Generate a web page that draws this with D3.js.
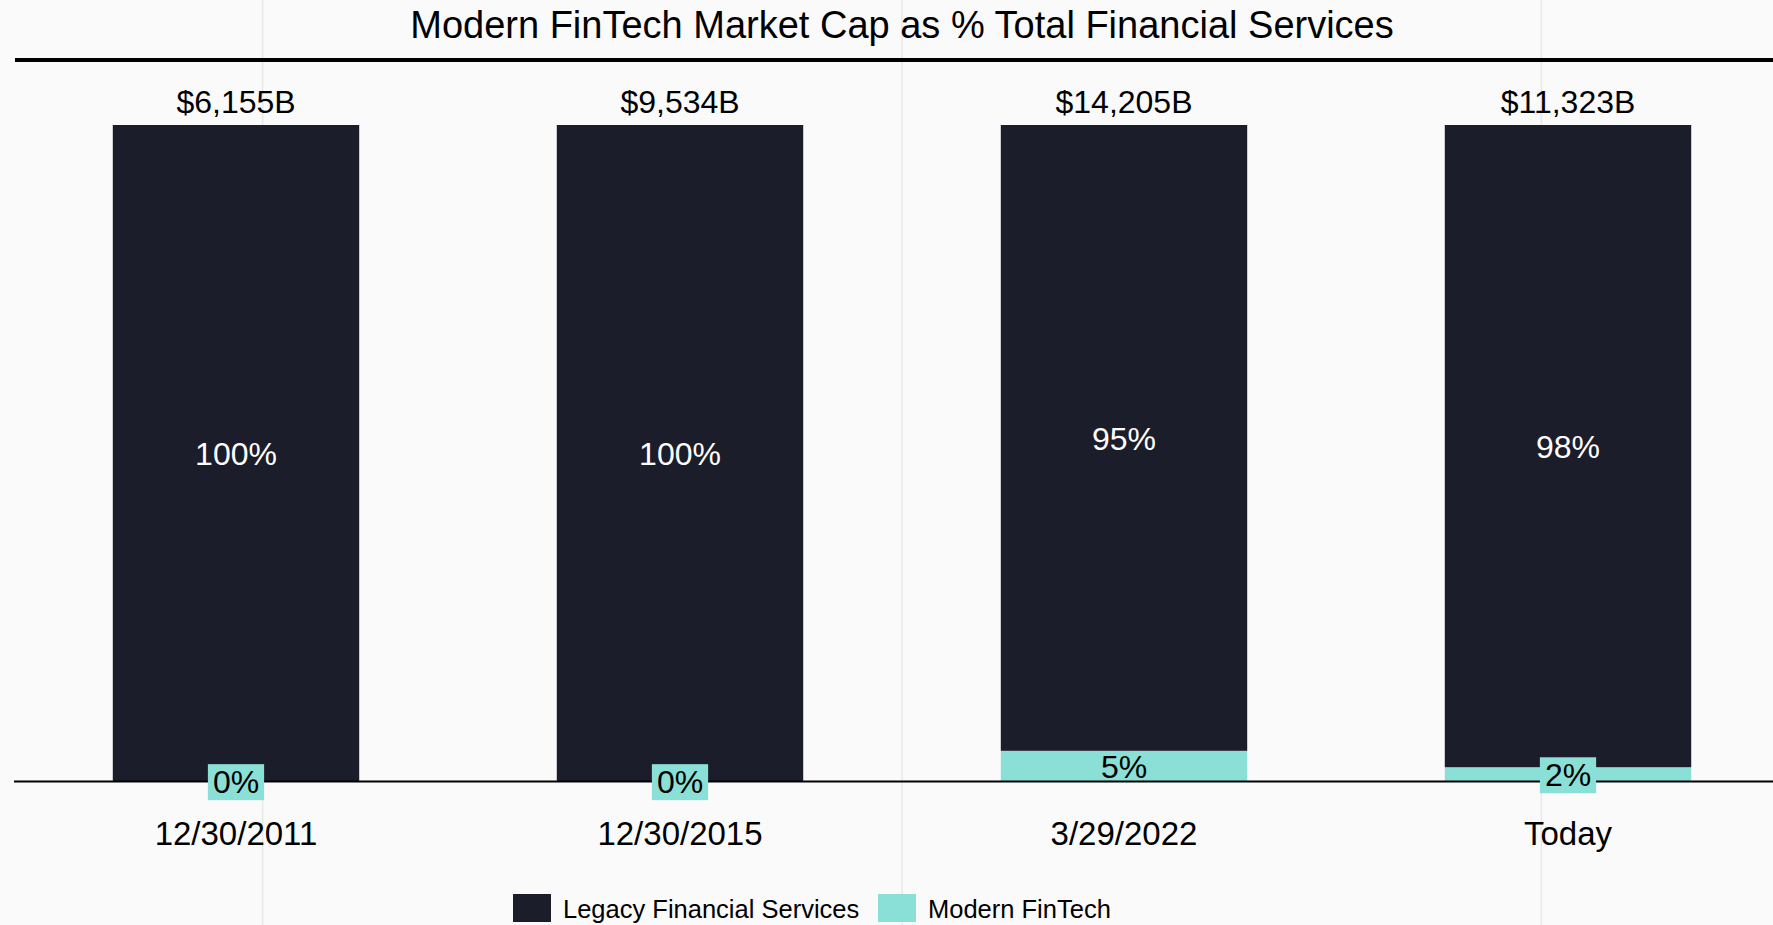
<!DOCTYPE html>
<meta charset="utf-8">
<style>
    body {
        margin: 0;
        background: #fafafa;
    }

    text {
        font-family: "Helvetica Neue", Helvetica, "Liberation Sans", Arial, sans-serif;
    }

    .grid line {
        stroke: #e8e8e8;
        stroke-width: 1.5px;
    }
</style>

<svg id="mainSVG" width="1773" height="925"></svg>
<script src="https://cdn.jsdelivr.net/npm/d3@7"></script>
<script>
    // chart data
    var categories = ["12/30/2011", "12/30/2015", "3/29/2022", "Today"];
    var totals = [6155, 9534, 14205, 11323];          // $B
    var fintech = [0, 0, 4.6, 2.1];                   // % Modern FinTech
    var legacy = [100, 100, 95.4, 97.9];              // % Legacy Financial Services
    var seriesNames = ["Legacy Financial Services", "Modern FinTech"];
    var gridTicks = [14, 50, 86];

    var colors = ["#1b1d2a", "#8ae0d6"];

    var svg = d3.select("svg"),
        width = +svg.attr("width"),
        height = +svg.attr("height");

    var plotLeft = 14,
        plotRight = 1790,
        plotTop = 125,
        plotBottom = 781;

    svg.append("rect")
        .attr("width", width)
        .attr("height", height)
        .attr("fill", "#fafafa");

    var x = d3.scaleBand()
        .domain(categories)
        .range([plotLeft, plotRight])
        .paddingInner(0.445)
        .paddingOuter(0.2225);

    var y = d3.scaleLinear()
        .domain([0, 100])
        .range([plotBottom, plotTop]);

    var gx = d3.scaleLinear()
        .domain([0, 100])
        .range([plotLeft, plotRight]);

    // light vertical grid lines
    svg.append("g")
        .attr("class", "grid")
        .selectAll("line")
        .data(gridTicks)
        .enter().append("line")
        .attr("x1", function (d) { return gx(d); })
        .attr("x2", function (d) { return gx(d); })
        .attr("y1", 0)
        .attr("y2", height);

    // title
    svg.append("text")
        .attr("x", gx(50))
        .attr("y", 38)
        .attr("text-anchor", "middle")
        .style("font-size", "38px")
        .attr("fill", "#000")
        .text("Modern FinTech Market Cap as % Total Financial Services");

    svg.append("line")
        .attr("x1", plotLeft + 1)
        .attr("x2", plotRight)
        .attr("y1", 60)
        .attr("y2", 60)
        .attr("stroke", "#000")
        .attr("stroke-width", 4);

    var rows = categories.map(function (c, i) {
        return { cat: c, total: totals[i], fintech: fintech[i], legacy: legacy[i] };
    });

    var stack = d3.stack().keys(["fintech", "legacy"]);
    var layers = stack(rows);

    var layer = svg.append("g")
        .selectAll("g")
        .data(layers)
        .enter().append("g")
        .attr("fill", function (d) { return d.key == "legacy" ? colors[0] : colors[1]; });

    layer.selectAll("rect")
        .data(function (d) { return d; })
        .enter().append("rect")
        .attr("x", function (d) { return x(d.data.cat); })
        .attr("width", x.bandwidth())
        .attr("y", function (d) { return y(d[1]); })
        .attr("height", function (d) { return y(d[0]) - y(d[1]); });

    // zero line
    svg.append("line")
        .attr("x1", plotLeft)
        .attr("x2", plotRight)
        .attr("y1", plotBottom + 0.5)
        .attr("y2", plotBottom + 0.5)
        .attr("stroke", "#000")
        .attr("stroke-width", 2);

    // category labels
    svg.append("g")
        .selectAll("text")
        .data(categories)
        .enter().append("text")
        .attr("x", function (d) { return x(d) + x.bandwidth() / 2; })
        .attr("y", 845)
        .attr("text-anchor", "middle")
        .style("font-size", "33px")
        .attr("fill", "#000")
        .text(function (d) { return d; });

    // totals on top
    svg.append("g")
        .selectAll("text")
        .data(rows)
        .enter().append("text")
        .attr("x", function (d) { return x(d.cat) + x.bandwidth() / 2; })
        .attr("y", 113)
        .attr("text-anchor", "middle")
        .style("font-size", "32px")
        .attr("fill", "#000")
        .text(function (d) { return "$" + d3.format(",")(d.total) + "B"; });

    // legacy % labels
    svg.append("g")
        .selectAll("text")
        .data(layers[1])
        .enter().append("text")
        .attr("x", function (d) { return x(d.data.cat) + x.bandwidth() / 2; })
        .attr("y", function (d) { return (y(d[0]) + y(d[1])) / 2; })
        .attr("dy", "0.38em")
        .attr("text-anchor", "middle")
        .style("font-size", "32px")
        .attr("fill", "#fff")
        .text(function (d) { return Math.round(d.data.legacy) + "%"; });

    // fintech % labels, boxed when the segment is too thin
    var ft = svg.append("g")
        .selectAll("g")
        .data(layers[0])
        .enter().append("g")
        .attr("transform", function (d) {
            return "translate(" + (x(d.data.cat) + x.bandwidth() / 2) + "," + ((y(d[0]) + y(d[1])) / 2) + ")";
        });

    ft.append("text")
        .attr("dy", "0.38em")
        .attr("text-anchor", "middle")
        .style("font-size", "32px")
        .attr("fill", "#000")
        .text(function (d) { return Math.round(d.data.fintech) + "%"; });

    ft.filter(function (d) { return y(d[0]) - y(d[1]) < 20; })
        .insert("rect", "text")
        .attr("fill", colors[1])
        .each(function () {
            var bb = this.parentNode.querySelector("text").getBBox();
            d3.select(this)
                .attr("x", bb.x - 5)
                .attr("y", bb.y)
                .attr("width", bb.width + 10)
                .attr("height", bb.height);
        });

    // legend
    var legend = svg.append("g")
        .attr("transform", "translate(513,894)");

    var item = legend.selectAll("g")
        .data(seriesNames)
        .enter().append("g")
        .attr("transform", function (d, i) { return "translate(" + (i * 365) + ",0)"; });

    item.append("rect")
        .attr("width", 38)
        .attr("height", 28)
        .attr("fill", function (d, i) { return colors[i]; });

    item.append("text")
        .attr("x", 50)
        .attr("y", 24)
        .style("font-size", "25.5px")
        .attr("fill", "#000")
        .text(function (d) { return d; });
</script>
